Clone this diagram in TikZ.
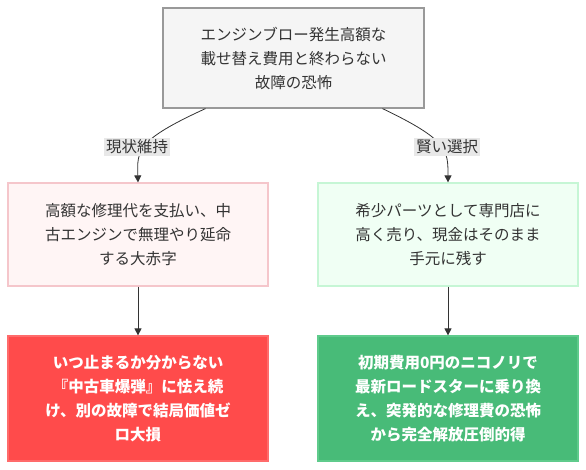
\documentclass[tikz,border=0pt]{standalone}
\usepackage{fontspec}
\setmainfont{Noto Sans CJK JP}
\usetikzlibrary{arrows.meta}

\definecolor{topfill}{HTML}{F5F5F5}
\definecolor{topline}{HTML}{999999}
\definecolor{badfill}{HTML}{FFF5F5}
\definecolor{badline}{HTML}{F5C6CB}
\definecolor{goodfill}{HTML}{F0FFF4}
\definecolor{goodline}{HTML}{C6F6D5}
\definecolor{lossfill}{HTML}{FF4B4B}
\definecolor{lossline}{HTML}{FF6B6B}
\definecolor{winfill}{HTML}{48BB78}
\definecolor{winline}{HTML}{5FCB8C}
\definecolor{ink}{HTML}{333333}
\definecolor{tagfill}{HTML}{E8E8E8}

\begin{document}
\begin{tikzpicture}[x=1pt,y=1pt,
 b/.style={draw,line width=1.2pt,align=center,minimum width=260pt,text=ink,font=\fontsize{15.5}{24}\selectfont},
 t/.style={fill=tagfill,inner sep=2pt,text=ink,font=\fontsize{15.5}{18}\selectfont},
 a/.style={-{Triangle[length=7pt,width=7pt]},ink,line width=0.8pt}]
\useasboundingbox (0,0) rectangle (586,-470);
\node[b,fill=topfill,draw=topline,minimum width=261pt,minimum height=100pt] (worry) at (293.5,-58) {エンジンブロー発生高額な\\載せ替え費用と終わらない\\故障の恐怖};
\node[b,fill=badfill,draw=badline,minimum height=103pt] (repair) at (138,-234.5) {高額な修理代を支払い、中\\古エンジンで無理やり延命\\する大赤字};
\node[b,fill=goodfill,draw=goodline,minimum height=103pt] (sell) at (448,-234.5) {希少パーツとして専門店に\\高く売り、現金はそのまま\\手元に残す};
\node[b,fill=lossfill,draw=lossline,text=white,minimum height=125pt,font=\fontsize{15.5}{24}\selectfont\bfseries] (bomb) at (138,-398.5) {いつ止まるか分からない\\『中古車爆弾』に怯え続\\け、別の故障で結局価値ゼ\\ロ大損};
\node[b,fill=winfill,draw=winline,text=white,minimum height=125pt,font=\fontsize{15.5}{24}\selectfont\bfseries] (nico) at (448,-398.5) {初期費用0円のニコノリで\\最新ロードスターに乗り換\\え、突発的な修理費の恐怖\\から完全解放圧倒的得};
\draw[a] ([xshift=-88pt]worry.south) .. controls (137,-140) and (137,-150) .. (repair.north);
\draw[a] ([xshift=89pt]worry.south) .. controls (448,-140) and (448,-150) .. (sell.north);
\node[t] (keep) at (137,-147) {現状維持};
\node[t] (wise) at (447,-147) {賢い選択};
\draw[a] (repair)--(bomb);
\draw[a] (sell)--(nico);
\end{tikzpicture}
\end{document}
